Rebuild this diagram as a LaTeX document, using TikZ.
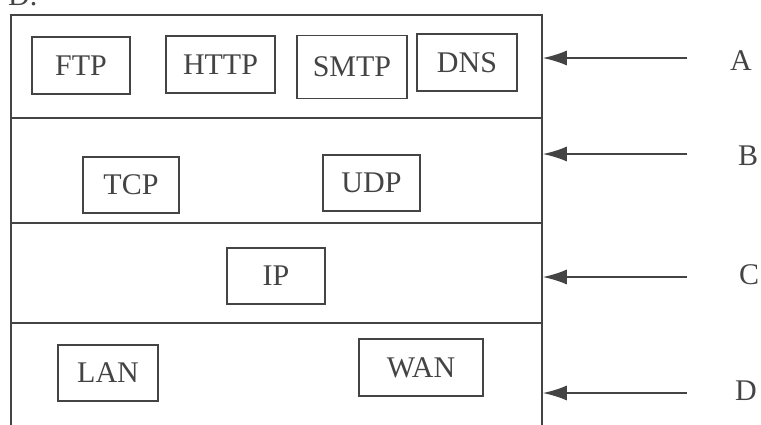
\documentclass[tikz,border=0pt]{standalone}
\usepackage{fontspec}
\setmainfont{Liberation Serif}
\usetikzlibrary{arrows.meta}
\definecolor{inkgray}{HTML}{444444}
\tikzstyle{proto} = [draw=inkgray, line width=1.6pt, rectangle, inner sep=0pt,
    text=inkgray, font=\fontsize{30}{36}\selectfont]
\tikzstyle{layer} = [draw=inkgray, line width=1.8pt]
\tikzstyle{pointer} = [draw=inkgray, line width=1.8pt, -{Latex[length=24pt,width=15pt]}]
\tikzstyle{tag} = [text=inkgray, inner sep=0pt, font=\fontsize{30}{36}\selectfont]

\begin{document}
\begin{tikzpicture}[x=1pt, y=-1pt]
    \useasboundingbox (0,0) rectangle (761,424);
    \fill[white] (0,0) rectangle (761,424);

    \node [tag, anchor=base west] (caption) at (8,5) {D.};

    % the stack frame and its layers
    \node [layer, rectangle, anchor=north west, minimum width=531pt,
        minimum height=420pt, inner sep=0pt] (stack) at (10,14) {};
    \draw [layer] (stack.west |- 0,118) -- (stack.east |- 0,118);
    \draw [layer] (stack.west |- 0,223) -- (stack.east |- 0,223);
    \draw [layer] (stack.west |- 0,323) -- (stack.east |- 0,323);

    \node [proto, minimum width=98pt, minimum height=57pt] (ftp) at (81,65.5) {FTP};
    \node [proto, minimum width=109pt, minimum height=57pt] (http) at (220.5,64.5) {HTTP};
    \node [proto, minimum width=110pt, minimum height=63pt] (smtp) at (352,67) {SMTP};
    \node [proto, minimum width=100pt, minimum height=57pt] (dns) at (467,62.5) {DNS};

    \node [proto, minimum width=96pt, minimum height=56pt] (tcp) at (131,185) {TCP};
    \node [proto, minimum width=97pt, minimum height=56pt] (udp) at (371.5,183) {UDP};

    \node [proto, minimum width=98pt, minimum height=56pt] (ip) at (276,276) {IP};

    \node [proto, minimum width=100pt, minimum height=56pt] (lan) at (108,373) {LAN};
    \node [proto, minimum width=124pt, minimum height=57pt] (wan) at (421,367.5) {WAN};

    % labels on the right
    \node [tag, anchor=base west] (lblA) at (730,70) {A};
    \node [tag, anchor=base west] (lblB) at (738,165) {B};
    \node [tag, anchor=base west] (lblC) at (739,284) {C};
    \node [tag, anchor=base west] (lblD) at (735,400) {D};

    \foreach \n/\y in {A/58, B/154, C/277, D/393} {
        \coordinate (tail\n) at (687,\y);
        \draw [pointer] (tail\n) -- (tail\n -| stack.east);
    }

\end{tikzpicture}
\end{document}
